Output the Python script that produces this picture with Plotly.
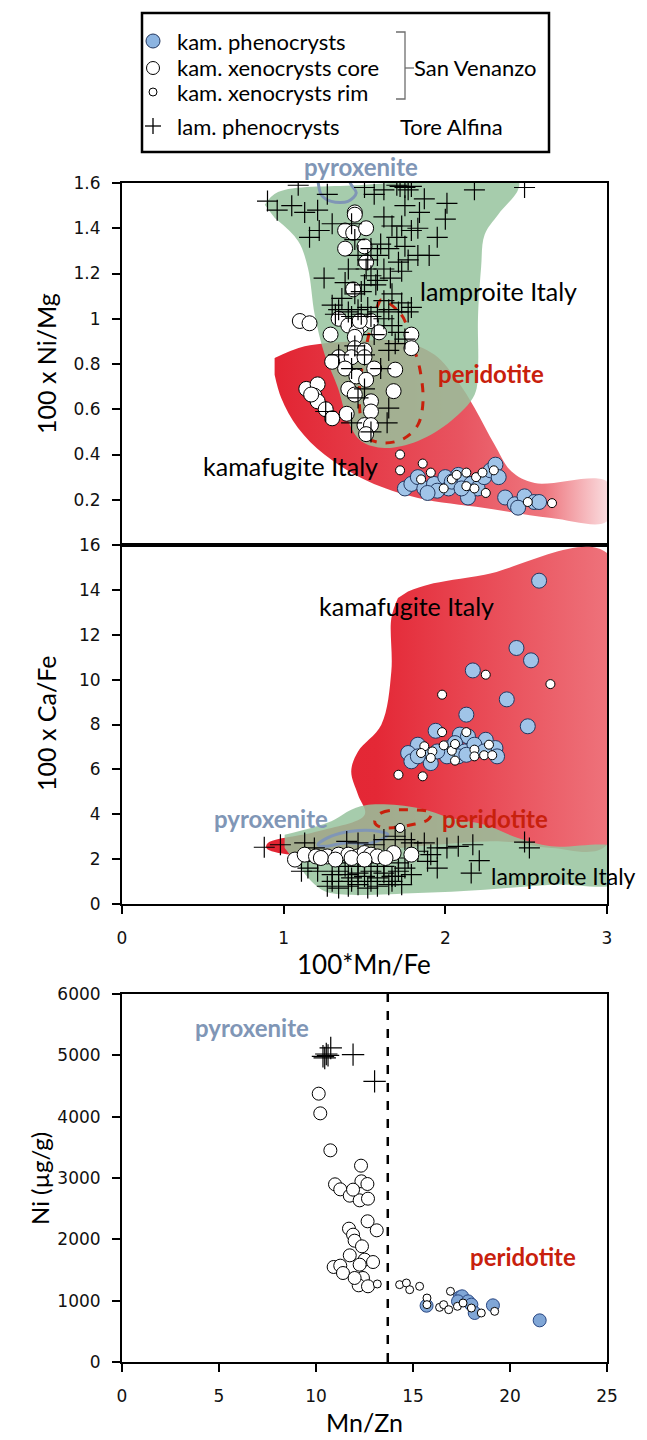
import plotly.graph_objects as go

W, H = 647, 1440
FONT = "Lato"
TICKFONT = "DejaVu Sans"

# ---------------- Panel 1 : 100*Mn/Fe vs 100 x Ni/Mg ----------------
p1_pheno_x = [1.75, 1.79, 1.83, 1.87, 1.93, 2.00, 2.02, 2.04, 2.08, 2.12, 2.16, 2.20, 2.24, 2.28,
              2.31, 2.33, 2.14, 2.10, 1.95, 1.89, 2.37, 2.43, 2.49, 2.55, 2.58, 2.45]
p1_pheno_y = [0.25, 0.27, 0.30, 0.25, 0.27, 0.30, 0.25, 0.28, 0.31, 0.28, 0.27, 0.25, 0.30, 0.33,
              0.355, 0.30, 0.21, 0.25, 0.24, 0.23, 0.21, 0.18, 0.215, 0.19, 0.19, 0.165]
p1_rim_x = [1.72, 1.72, 1.86, 1.91, 1.85, 1.99, 2.04, 2.07, 2.13, 2.19, 2.23, 2.25, 2.30, 2.13,
            2.66, 2.51, 2.18]
p1_rim_y = [0.40, 0.33, 0.36, 0.32, 0.29, 0.25, 0.29, 0.31, 0.32, 0.30, 0.32, 0.23, 0.33, 0.26,
            0.185, 0.19, 0.25]
p1_core_x = [1.44, 1.44, 1.38, 1.43, 1.51, 1.38, 1.50, 1.51, 1.43, 1.10, 1.16, 1.34, 1.40, 1.48,
             1.45, 1.29, 1.44, 1.54, 1.59, 1.79, 1.79, 1.44, 1.50, 1.34, 1.42, 1.50, 1.30, 1.38,
             1.56, 1.69, 1.45, 1.51, 1.40, 1.14, 1.21, 1.19, 1.21, 1.68, 1.44, 1.54, 1.54, 1.26,
             1.30, 1.39, 1.50, 1.54, 1.51, 1.17, 1.47]
p1_core_y = [1.47, 1.46, 1.39, 1.38, 1.40, 1.31, 1.32, 1.25, 1.13, 0.99, 0.98, 1.00, 0.97, 0.97,
             0.94, 0.93, 0.92, 0.99, 0.94, 0.93, 0.87, 0.87, 0.86, 0.83, 0.83, 0.83, 0.81, 0.78,
             0.78, 0.775, 0.745, 0.73, 0.69, 0.69, 0.71, 0.66, 0.635, 0.68, 0.665, 0.635, 0.59, 0.60,
             0.56, 0.58, 0.53, 0.53, 0.49, 0.665, 0.99]
p1_lam_x = [1.09, 1.27, 0.90, 0.96, 1.05, 1.13, 1.21, 1.30, 1.16, 1.22, 1.42, 1.50, 1.56, 1.62,
            1.70, 1.72, 1.75, 1.79, 1.77, 1.87, 2.01, 1.75, 1.84, 2.00, 1.62, 1.67, 1.73, 1.79,
            1.83, 1.95, 2.18, 2.49, 1.70, 1.60, 1.54, 1.65, 1.75, 1.83, 1.90, 1.46, 1.52, 1.58,
            1.71, 1.77, 1.62, 1.51, 1.40, 1.25, 1.54, 1.66, 1.73, 1.38, 1.50, 1.57, 1.44, 1.67,
            1.62, 1.30, 1.34, 1.40, 1.46, 1.52, 1.58, 1.65, 1.71, 1.77, 1.32, 1.42, 1.48, 1.54,
            1.62, 1.73, 1.79, 1.67, 1.71, 1.75, 1.69, 1.65, 1.44, 1.50, 1.34, 1.42, 1.60, 1.50,
            1.46, 1.65, 1.64, 1.42, 1.26, 1.54, 1.56, 1.48, 1.36, 1.58, 1.44]
p1_lam_y = [1.59, 1.55, 1.52, 1.48, 1.50, 1.47, 1.48, 1.42, 1.36, 1.39, 1.42, 1.58, 1.55, 1.57,
            1.59, 1.585, 1.58, 1.585, 1.57, 1.53, 1.51, 1.50, 1.47, 1.44, 1.45, 1.41, 1.41, 1.39,
            1.40, 1.36, 1.57, 1.58, 1.36, 1.33, 1.31, 1.31, 1.32, 1.28, 1.28, 1.28, 1.26, 1.28,
            1.25, 1.26, 1.22, 1.22, 1.22, 1.18, 1.19, 1.18, 1.21, 1.16, 1.15, 1.15, 1.11, 1.11,
            1.08, 1.06, 1.04, 1.03, 1.04, 1.05, 1.03, 1.04, 1.03, 1.03, 1.02, 1.01, 1.02, 1.01,
            1.00, 1.07, 1.05, 0.97, 0.94, 0.91, 0.89, 0.86, 0.88, 0.84, 0.84, 0.78, 0.78, 0.69,
            0.65, 0.605, 0.54, 0.54, 0.59, 0.50, 0.93, 1.12, 1.09, 1.17, 1.35]

# field outlines, panel 1
p1_lamproite_x = [0.883, 0.965, 1.46, 2.449, 2.449, 2.326, 2.243, 2.221, 2.202, 2.202, 2.181,
                  2.035, 1.831, 1.625, 1.478, 1.398, 1.336, 1.254, 1.192, 1.150, 1.089, 0.945]
p1_lamproite_y = [1.504, 1.560, 1.590, 1.610, 1.569, 1.460, 1.371, 1.224, 1.003, 0.782, 0.664,
                  0.548, 0.460, 0.429, 0.460, 0.548, 0.694, 0.841, 1.018, 1.224, 1.344, 1.445]
p1_kamaf_x = [0.944, 1.130, 1.418, 1.728, 1.934, 2.078, 2.181, 2.305, 2.408, 2.553, 3.0,
              3.0, 2.655, 2.243, 1.831, 1.522, 1.254, 1.089, 0.985, 0.944]
p1_kamaf_y = [0.826, 0.878, 0.900, 0.900, 0.841, 0.723, 0.606, 0.443, 0.326, 0.274, 0.280,
              0.105, 0.119, 0.164, 0.208, 0.282, 0.399, 0.517, 0.650, 0.753]
p1_perid_x = [1.604, 1.728, 1.790, 1.841, 1.862, 1.831, 1.749, 1.625, 1.522, 1.480, 1.470,
              1.501, 1.542, 1.584, 1.604]
p1_perid_y = [1.084, 1.018, 0.900, 0.782, 0.635, 0.532, 0.473, 0.451, 0.473, 0.547, 0.709,
              0.841, 0.974, 1.062, 1.084]
p1_pyrox_x = [1.200, 1.212, 1.233, 1.295, 1.398, 1.449, 1.418, 1.380]
p1_pyrox_y = [1.650, 1.607, 1.548, 1.519, 1.519, 1.556, 1.592, 1.650]

# ---------------- Panel 2 : 100*Mn/Fe vs 100 x Ca/Fe ----------------
p2_pheno_x = [2.58, 2.44, 2.53, 2.17, 2.38, 2.13, 2.51, 1.94, 2.09, 2.14, 2.25, 1.83, 1.77, 1.79,
              1.89, 1.91, 2.02, 2.06, 2.12, 2.08, 2.01, 2.18, 2.31, 2.32, 2.13, 2.24, 1.95, 1.83]
p2_pheno_y = [14.41, 11.41, 10.86, 10.41, 9.12, 8.44, 7.92, 7.72, 7.55, 7.47, 7.32, 7.10, 6.73, 6.36,
              6.65, 6.28, 6.95, 7.17, 6.80, 6.58, 6.58, 7.10, 6.95, 6.58, 6.65, 6.80, 6.80, 6.58]
p2_rim_x = [2.25, 2.65, 1.98, 1.71, 1.86, 1.98, 2.13, 1.87, 1.92, 1.99, 2.04, 2.06, 2.06, 2.18,
            2.18, 2.24, 2.27, 2.29, 1.85, 1.91, 1.72]
p2_rim_y = [10.22, 9.80, 9.33, 5.76, 5.69, 7.66, 7.66, 7.03, 6.80, 7.07, 6.83, 7.13, 6.39, 6.88,
            6.58, 6.63, 7.10, 6.63, 6.73, 6.51, 3.39]
p2_core_x = [1.07, 1.13, 1.20, 1.27, 1.34, 1.40, 1.46, 1.50, 1.54, 1.58, 1.68, 1.79, 1.23, 1.32,
             1.42, 1.63, 1.50]
p2_core_y = [1.98, 2.20, 2.12, 2.12, 2.20, 2.20, 2.12, 2.27, 2.20, 2.12, 2.27, 2.20, 2.05, 1.98,
             2.05, 2.05, 1.98]
p2_lam_x = [0.88, 0.98, 1.13, 1.19, 1.39, 1.46, 1.56, 1.62, 1.69, 1.75, 1.79, 1.87, 1.95, 2.01,
            2.08, 2.17, 2.21, 1.95, 1.89, 2.16, 2.49, 2.52, 1.15, 1.21, 1.30, 1.34, 1.40, 1.42,
            1.46, 1.50, 1.54, 1.58, 1.62, 1.67, 1.71, 1.75, 1.79, 1.27, 1.34, 1.40, 1.46, 1.52,
            1.58, 1.65, 1.73, 1.42, 1.54, 1.67, 1.30, 1.21, 1.38, 1.50, 1.62, 1.71, 1.77, 1.83,
            1.91, 1.11, 1.46, 1.34, 1.58, 1.69]
p2_lam_y = [2.53, 2.64, 2.72, 2.50, 2.79, 2.72, 2.64, 2.87, 3.02, 2.87, 2.72, 2.72, 2.50, 2.50,
            2.57, 2.64, 1.93, 1.60, 1.90, 1.38, 2.76, 2.50, 1.60, 1.46, 1.31, 1.46, 1.31, 1.16,
            1.38, 1.23, 1.46, 1.16, 1.38, 1.23, 1.46, 1.60, 1.31, 0.79, 0.71, 0.79, 0.86, 0.71,
            0.79, 0.86, 0.86, 1.01, 1.01, 1.01, 1.01, 1.90, 1.68, 1.68, 1.68, 1.83, 2.05, 2.35,
            2.20, 1.46, 1.83, 1.83, 1.83, 1.23]

p2_kamaf_x = [1.769, 1.893, 2.243, 3.0, 3.0, 2.655, 2.346, 1.047, 0.893, 0.903, 1.212, 1.501,
              1.460, 1.418, 1.460, 1.604, 1.666, 1.666, 1.707]
p2_kamaf_y = [13.93, 14.23, 14.67, 15.64, 2.64, 2.50, 2.79, 2.20, 2.50, 2.72, 3.24, 3.98,
              4.87, 5.91, 6.80, 7.99, 10.37, 12.74, 13.64]
p2_lamproite_x = [1.006, 1.295, 1.418, 1.542, 1.831, 2.037, 2.243, 2.449, 2.655, 3.08,
                  3.08, 2.655, 2.243, 1.831, 1.418, 1.254, 1.171, 1.089, 1.006]
p2_lamproite_y = [3.09, 3.69, 4.20, 4.43, 4.28, 3.83, 3.53, 2.94, 2.57, 2.45,
                  0.98, 0.86, 0.64, 0.49, 0.41, 0.57, 1.01, 1.75, 2.50]
p2_perid_x = [1.563, 1.604, 1.769, 1.913, 1.893, 1.790, 1.625, 1.573, 1.563]
p2_perid_y = [3.69, 4.06, 4.20, 4.06, 3.76, 3.53, 3.39, 3.53, 3.69]
p2_pyrox_x = [1.212, 1.295, 1.418, 1.584, 1.645, 1.542, 1.378, 1.254, 1.212]
p2_pyrox_y = [2.64, 3.02, 3.24, 3.24, 3.09, 2.72, 2.72, 2.57, 2.64]

# ---------------- Panel 3 : Mn/Zn vs Ni ----------------
p3_lam_x = [10.36, 10.53, 10.76, 10.62, 11.91, 13.02, 10.45]
p3_lam_y = [4984, 5022, 5120, 5000, 5011, 4576, 4957]
p3_core_x = [10.14, 10.22, 10.74, 12.32, 10.98, 11.25, 11.74, 12.34, 12.65, 12.25, 12.68, 11.91,
             12.66, 13.13, 11.70, 11.91, 11.99, 12.37, 11.74, 12.51, 12.94, 10.91, 11.25, 11.39,
             12.25, 12.42, 12.20, 12.68, 11.99]
p3_core_y = [4375, 4054, 3451, 3201, 2897, 2815, 2712, 2946, 2902, 2636, 2663, 2810,
             2294, 2147, 2174, 2076, 1978, 1886, 1739, 1669, 1630, 1549, 1571, 1451,
             1587, 1370, 1250, 1234, 1370]
p3_rim_x = [13.16, 14.31, 14.66, 14.83, 15.34, 15.72, 15.72, 16.37, 16.58, 16.84, 16.93, 17.29,
            17.58, 18.01, 18.52, 19.21]
p3_rim_y = [1272, 1261, 1288, 1179, 1234, 1043, 935, 891, 935, 853, 1152, 908,
            962, 880, 799, 826]
p3_pheno_x = [15.70, 17.41, 17.53, 17.32, 17.84, 18.01, 18.18, 19.12, 21.53]
p3_pheno_y = [918, 1054, 1071, 989, 989, 935, 799, 924, 679]
MN_ZN_LIMIT = 13.7

# ---------------- styles ----------------
BLUE = "rgb(160,196,232)"
BLUE_EDGE = "rgb(35,55,95)"
GREEN = "rgba(150,195,158,0.85)"
PERID = "rgb(200,32,12)"
PYROX = "rgb(128,150,182)"


def PX(x):
    return x / W


def PY(y):
    return 1 - y / H


fig = go.Figure()


def circles(x, y, size, fill, edge, xa, ya, lw=1.0):
    fig.add_trace(go.Scatter(x=x, y=y, mode="markers", xaxis=xa, yaxis=ya, showlegend=False,
                             marker=dict(size=size, color=fill, line=dict(color=edge, width=lw))))


def crosses(x, y, xa, ya, size=15):
    fig.add_trace(go.Scatter(x=x, y=y, mode="markers", xaxis=xa, yaxis=ya, showlegend=False,
                             marker=dict(symbol="cross-thin", size=size,
                                         line=dict(color="black", width=1.2))))


def outline(x, y, color, dash, xa, ya):
    fig.add_trace(go.Scatter(x=x, y=y, mode="lines", xaxis=xa, yaxis=ya, showlegend=False,
                             line=dict(color=color, width=3, dash=dash, shape="spline")))


# panel 1 fields
fig.add_trace(go.Scatter(x=p1_kamaf_x, y=p1_kamaf_y, fill="toself", mode="lines", line=dict(width=0, shape="spline"),
                         fillgradient=dict(type="horizontal",
                                           colorscale=[[0, "rgb(226,36,50)"], [0.55, "rgb(232,84,96)"],
                                                       [0.8, "rgb(238,118,126)"], [1, "rgb(251,228,230)"]]),
                         xaxis="x", yaxis="y", showlegend=False))
fig.add_trace(go.Scatter(x=p1_lamproite_x, y=p1_lamproite_y, fill="toself", mode="lines",
                         line=dict(width=0, shape="spline"), fillcolor=GREEN, xaxis="x", yaxis="y",
                         showlegend=False))
outline(p1_perid_x, p1_perid_y, PERID, "dash", "x", "y")
outline(p1_pyrox_x, p1_pyrox_y, PYROX, "solid", "x", "y")
circles(p1_core_x, p1_core_y, 15, "white", "black", "x", "y")
crosses(p1_lam_x, p1_lam_y, "x", "y")
circles(p1_pheno_x, p1_pheno_y, 15, BLUE, BLUE_EDGE, "x", "y")
circles(p1_rim_x, p1_rim_y, 9, "white", "black", "x", "y")

# panel 2 fields
fig.add_trace(go.Scatter(x=p2_kamaf_x, y=p2_kamaf_y, fill="toself", mode="lines", line=dict(width=0, shape="spline"),
                         fillgradient=dict(type="horizontal",
                                           colorscale=[[0, "rgb(226,36,50)"], [0.3, "rgb(228,40,54)"],
                                                       [1, "rgb(239,122,130)"]]),
                         xaxis="x2", yaxis="y2", showlegend=False))
fig.add_trace(go.Scatter(x=p2_lamproite_x, y=p2_lamproite_y, fill="toself", mode="lines",
                         line=dict(width=0, shape="spline"), fillcolor=GREEN, xaxis="x2", yaxis="y2",
                         showlegend=False))
outline(p2_perid_x, p2_perid_y, PERID, "dash", "x2", "y2")
outline(p2_pyrox_x, p2_pyrox_y, PYROX, "solid", "x2", "y2")
crosses(p2_lam_x, p2_lam_y, "x2", "y2")
circles(p2_core_x, p2_core_y, 15, "white", "black", "x2", "y2")
circles(p2_pheno_x, p2_pheno_y, 15, BLUE, BLUE_EDGE, "x2", "y2")
circles(p2_rim_x, p2_rim_y, 9, "white", "black", "x2", "y2")

# panel 3
fig.add_trace(go.Scatter(x=[MN_ZN_LIMIT, MN_ZN_LIMIT], y=[0, 6000], mode="lines", xaxis="x3", yaxis="y3",
                         showlegend=False, line=dict(color="black", width=2.5, dash="dash")))
crosses(p3_lam_x, p3_lam_y, "x3", "y3", size=16)
circles(p3_core_x, p3_core_y, 13, "white", "black", "x3", "y3")
circles(p3_pheno_x, p3_pheno_y, 13, "rgb(128,166,214)", "rgb(40,70,130)", "x3", "y3")
circles(p3_rim_x, p3_rim_y, 8, "white", "black", "x3", "y3")

# ---------------- axes ----------------
XD = [114 / W, 599 / W]
line_common = dict(showline=True, linecolor="black", linewidth=2, mirror=True, showgrid=False,
                   zeroline=False, automargin=False, tickfont=dict(family=TICKFONT, size=17, color="#111"))
tick_common = dict(ticklen=8, tickwidth=2, tickcolor="black", ticks="outside")

fig.update_layout(
    width=W, height=H, margin=dict(l=0, r=0, t=0, b=0),
    paper_bgcolor="white", plot_bgcolor="white", showlegend=False,
    xaxis=dict(domain=XD, range=[0, 3], anchor="y", showticklabels=False, ticks="", **line_common),
    yaxis=dict(domain=[1 - 537 / H, 1 - 175 / H], range=[0, 1.6], anchor="x",
               tickvals=[0.2, 0.4, 0.6, 0.8, 1.0, 1.2, 1.4, 1.6],
               ticktext=["0.2", "0.4", "0.6", "0.8", "1", "1.2", "1.4", "1.6"],
               ticklabelstandoff=8, **line_common, **tick_common),
    xaxis2=dict(domain=XD, range=[0, 3], anchor="y2", tickvals=[0, 1, 2, 3], ticklabelstandoff=10,
                **line_common, **tick_common),
    yaxis2=dict(domain=[1 - 896 / H, 1 - 537 / H], range=[0, 16], anchor="x2",
                tickvals=list(range(0, 17, 2)), ticklabelstandoff=8, **line_common, **tick_common),
    xaxis3=dict(domain=XD, range=[0, 25], anchor="y3", tickvals=list(range(0, 26, 5)), ticklabelstandoff=10,
                **line_common, **tick_common),
    yaxis3=dict(domain=[1 - 1354 / H, 1 - 986 / H], range=[0, 6000], anchor="x3",
                tickvals=list(range(0, 6001, 1000)), ticklabelstandoff=8, **line_common, **tick_common),
)

ann = []


def label(text, x, y, xref, yref, size=20, color="black", bold=False, angle=0, xanchor="center"):
    ann.append(dict(text=f"<b>{text}</b>" if bold else text, x=x, y=y, xref=xref, yref=yref,
                    showarrow=False, textangle=angle, xanchor=xanchor, yanchor="middle",
                    font=dict(family=FONT, size=size, color=color)))


# axis titles
label("100 x Ni/Mg", PX(38), PY(356), "paper", "paper", size=25, angle=-90)
label("100 x Ca/Fe", PX(38), PY(716), "paper", "paper", size=25, angle=-90)
label("100*Mn/Fe", PX(356), PY(956), "paper", "paper", size=26)
label("Ni (µg/g)", PX(31), PY(1170), "paper", "paper", size=24, angle=-90)
label("Mn/Zn", PX(356), PY(1414), "paper", "paper", size=25)

# panel labels
label("pyroxenite", PX(353), PY(158), "paper", "paper", size=24, color=PYROX, bold=True)
label("lamproite Italy", 2.326, 1.124, "x", "y", size=25)
label("peridotite", 2.284, 0.756, "x", "y", size=24, color=PERID, bold=True)
label("kamafugite Italy", 1.041, 0.350, "x", "y", size=25)
label("kamafugite Italy", 1.757, 13.27, "x2", "y2", size=25)
label("pyroxenite", 0.924, 3.83, "x2", "y2", size=24, color=PYROX, bold=True)
label("peridotite", 2.309, 3.83, "x2", "y2", size=24, color=PERID, bold=True)
label("lamproite Italy", 2.73, 1.25, "x2", "y2", size=23)
label("pyroxenite", 6.72, 5457, "x3", "y3", size=24, color=PYROX, bold=True)
label("peridotite", 20.69, 1723, "x3", "y3", size=24, color=PERID, bold=True)

# legend box
legend_items = ["kam. phenocrysts", "kam. xenocrysts core", "kam. xenocrysts rim", "lam. phenocrysts"]
legend_rows = [33, 60, 84, 118]
for t, r in zip(legend_items, legend_rows):
    label(t, PX(167), PY(r), "paper", "paper", size=22, xanchor="left")
label("San Venanzo", PX(404), PY(60), "paper", "paper", size=22, xanchor="left")
label("Tore Alfina", PX(390), PY(118), "paper", "paper", size=22, xanchor="left")

shapes = [
    dict(type="rect", xref="paper", yref="paper", x0=PX(134), x1=PX(541), y0=PY(144), y1=PY(5),
         line=dict(color="black", width=2.5), fillcolor="rgba(0,0,0,0)"),
    dict(type="circle", xref="paper", yref="paper", x0=PX(138), x1=PX(152), y0=PY(40), y1=PY(26),
         line=dict(color=BLUE_EDGE, width=1), fillcolor="rgb(140,180,225)"),
    dict(type="circle", xref="paper", yref="paper", x0=PX(138.5), x1=PX(151.5), y0=PY(66.5), y1=PY(53.5),
         line=dict(color="black", width=1), fillcolor="white"),
    dict(type="circle", xref="paper", yref="paper", x0=PX(141), x1=PX(149), y0=PY(88), y1=PY(80),
         line=dict(color="black", width=1), fillcolor="white"),
    dict(type="line", xref="paper", yref="paper", x0=PX(137), x1=PX(153), y0=PY(118), y1=PY(118),
         line=dict(color="black", width=1.3)),
    dict(type="line", xref="paper", yref="paper", x0=PX(145), x1=PX(145), y0=PY(110), y1=PY(126),
         line=dict(color="black", width=1.3)),
    dict(type="path", xref="paper", yref="paper",
         path=f"M {PX(388)} {PY(24)} L {PX(397)} {PY(24)} L {PX(397)} {PY(91)} L {PX(388)} {PY(91)}",
         line=dict(color="rgb(110,110,110)", width=1.3)),
    dict(type="line", xref="paper", yref="paper", x0=PX(397), x1=PX(406), y0=PY(60), y1=PY(60),
         line=dict(color="rgb(110,110,110)", width=1.3)),
]

fig.update_layout(annotations=ann, shapes=shapes)
fig.write_html("out.html")
